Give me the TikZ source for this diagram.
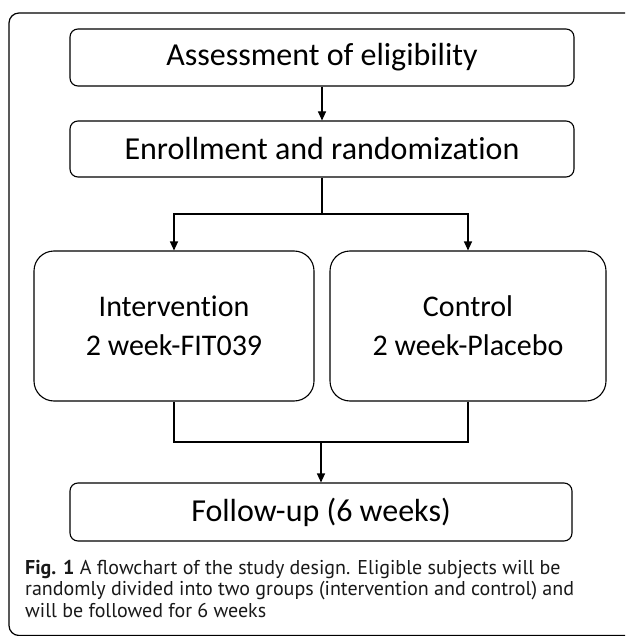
\documentclass[tikz,border=0pt]{standalone}
\usepackage{fontspec}
\setmainfont[Ligatures={NoCommon,NoRare,NoDiscretionary}]{Carlito}
\newfontfamily\capfont{PT Sans}
\usetikzlibrary{arrows.meta,positioning}
\tikzset{
  x=1pt,y=-1pt,
  smallbox/.style={draw,line width=1.1pt,rounded corners=8pt,minimum width=504pt,minimum height=57pt,inner sep=0pt,font=\fontsize{32}{36}\selectfont},
  bigbox/.style={draw,line width=1.1pt,rounded corners=20pt,minimum width=278pt,minimum height=150pt,inner sep=0pt,align=center,font=\fontsize{30}{39}\selectfont},
  conn/.style={line width=1.1pt},
  arr/.style={line width=1.1pt,-{Triangle[length=9pt,width=8pt]}},
  frame/.style={draw,line width=1.2pt,rounded corners=10pt}
}
\begin{document}
\begin{tikzpicture}
\useasboundingbox (0,0) rectangle (625,636);
\clip (0,0) rectangle (625,636);
\fill[white] (0,0) rectangle (625,636);
\draw[frame] (9,13) rectangle (660,635.5);
\node[smallbox] (a) at (322,57.5) {Assessment of eligibility};
\node[smallbox,minimum height=56pt] (b) at (322,149) {Enrollment and randomization};
\node[bigbox,minimum width=280pt] (c) at (174,326) {Intervention\\2 week-FIT039};
\node[bigbox,minimum width=276pt] (d) at (468,326) {Control\\2 week-Placebo};
\node[smallbox,minimum width=502pt,minimum height=58pt] (e) at (321,512) {Follow-up (6 weeks)};
\coordinate (j1) at (322,214);
\coordinate (j2) at (321,442);
\draw[arr] (a) -- (b);
\draw[conn] (b) -- (j1);
\draw[arr] (j1) -| (c.north);
\draw[arr] (j1) -| (d.north);
\draw[conn] (c.south) |- (j2);
\draw[conn] (d.south) |- (j2);
\draw[arr] (j2) -- (e);
\node[anchor=base west,align=left,inner sep=0pt,text=black!90,font=\capfont\fontsize{20}{21.5}\selectfont] (cap) at (25,617)
 {\textbf{Fig. 1} A flowchart of the study design. Eligible subjects will be\\
 randomly divided into two groups (intervention and control) and\\
 will be followed for 6 weeks};
\end{tikzpicture}
\end{document}
